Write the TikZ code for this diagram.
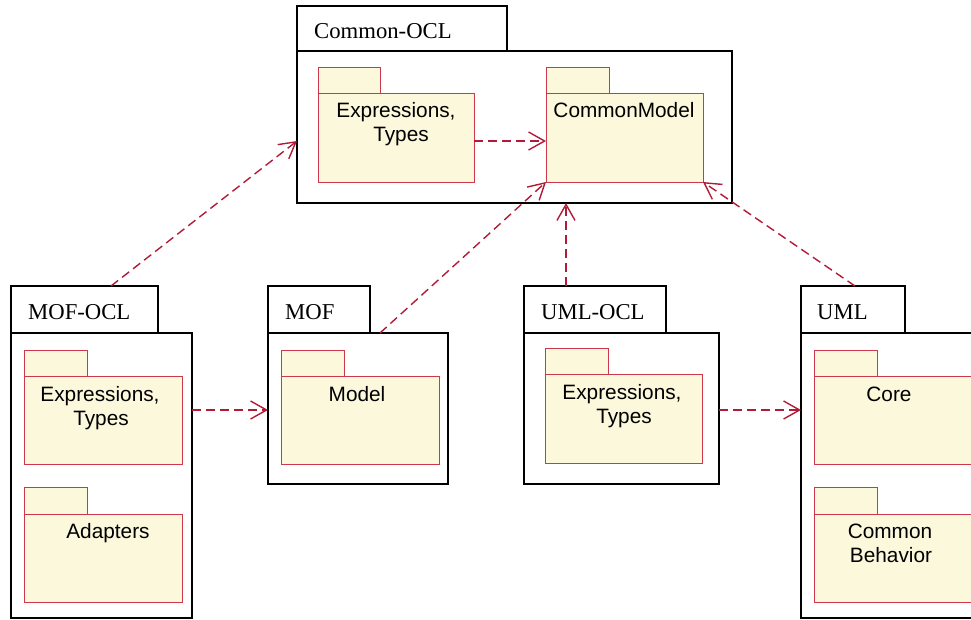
\documentclass[tikz,border=0pt]{standalone}
\usepackage{fontspec}
\setmainfont{Liberation Serif}
\newfontfamily\arialfont{Liberation Sans}
\usetikzlibrary{arrows.meta}
\definecolor{deprd}{RGB}{176,28,56}
\definecolor{pkred}{RGB}{206,56,76}
\definecolor{pkfill}{RGB}{252,248,220}
\begin{document}
\begin{tikzpicture}[x=1pt,y=-1pt,
  pk/.style 2 args={anchor=north west, inner sep=0pt, outer sep=0pt, minimum width=#1, minimum height=#2},
  outerbox/.style={draw=black, line width=1.6pt, fill=white},
  innerbox/.style={draw=pkred, line width=1pt, fill=pkfill},
  tabtxt/.style={anchor=base west, inner sep=0pt, font=\fontsize{22.7}{26}\selectfont},
  intxt/.style={anchor=base, inner sep=0pt, font=\arialfont\fontsize{20.8}{24}\selectfont},
  dep/.style={draw=deprd, line width=1.4pt, dash pattern=on 9pt off 5pt, -{Straight Barb[length=16pt,width=18pt]}}]
\useasboundingbox (0,0) rectangle (971,619);
\clip (0,0) rectangle (971,619);
% ---------- Common-OCL ----------
\node[pk={435pt}{152pt}, outerbox] (cobody) at (297,51) {};
\node[pk={210pt}{45pt}, outerbox] (cotab) at (297,6) {};
\node[tabtxt] (colbl) at (314,38) {Common-OCL};
\node[pk={156pt}{89pt}, innerbox] (coexp) at (318,93) {};
\node[pk={62pt}{26pt}, innerbox] (coexptab) at (318,67) {};
\node[intxt] (coexpa) at (396,117) {Expressions,};
\node[intxt] (coexpb) at (401,141) {Types};
\node[pk={157pt}{89pt}, innerbox] (cmbody) at (546,93) {};
\node[pk={63pt}{26pt}, innerbox] (cmtab) at (546,67) {};
\node[intxt] (cmtxt) at (624,117) {CommonModel};
% ---------- MOF-OCL ----------
\node[pk={181pt}{285pt}, outerbox] (mobody) at (11,333) {};
\node[pk={147pt}{47pt}, outerbox] (motab) at (11,286) {};
\node[tabtxt] (molbl) at (28,319) {MOF-OCL};
\node[pk={158pt}{88pt}, innerbox] (moexp) at (24,376) {};
\node[pk={63pt}{26pt}, innerbox] (moexptab) at (24,350) {};
\node[intxt] (moexpa) at (100,401) {Expressions,};
\node[intxt] (moexpb) at (101,425) {Types};
\node[pk={158pt}{88pt}, innerbox] (adbody) at (24,514) {};
\node[pk={63pt}{27pt}, innerbox] (adtab) at (24,487) {};
\node[intxt] (adtxt) at (108,538) {Adapters};
% ---------- MOF ----------
\node[pk={180pt}{151pt}, outerbox] (mfbody) at (268,333) {};
\node[pk={102pt}{47pt}, outerbox] (mftab) at (268,286) {};
\node[tabtxt] (mflbl) at (285,319) {MOF};
\node[pk={158pt}{88pt}, innerbox] (modbody) at (281,376) {};
\node[pk={63pt}{26pt}, innerbox] (modtab) at (281,350) {};
\node[intxt] (modtxt) at (357,401) {Model};
% ---------- UML-OCL ----------
\node[pk={195pt}{151pt}, outerbox] (uobody) at (524,333) {};
\node[pk={142pt}{47pt}, outerbox] (uotab) at (524,286) {};
\node[tabtxt] (uolbl) at (541,319) {UML-OCL};
\node[pk={157pt}{89pt}, innerbox] (uoexp) at (545,374) {};
\node[pk={63pt}{26pt}, innerbox] (uoexptab) at (545,348) {};
\node[intxt] (uoexpa) at (622,399) {Expressions,};
\node[intxt] (uoexpb) at (624,423) {Types};
% ---------- UML ----------
\node[pk={200pt}{285pt}, outerbox] (umbody) at (801,333) {};
\node[pk={104pt}{47pt}, outerbox] (umtab) at (801,286) {};
\node[tabtxt] (umlbl) at (817,319) {UML};
\node[pk={180pt}{88pt}, innerbox] (core) at (814,376) {};
\node[pk={63pt}{26pt}, innerbox] (coretab) at (814,350) {};
\node[intxt] (coretxt) at (889,401) {Core};
\node[pk={180pt}{88pt}, innerbox] (cb) at (814,514) {};
\node[pk={63pt}{27pt}, innerbox] (cbtab) at (814,487) {};
\node[intxt] (cba) at (890,538) {Common};
\node[intxt] (cbb) at (891,562) {Behavior};
% ---------- dependencies ----------
\draw[dep] (coexp.east |- 0,141) -- (cmbody.west |- 0,141);
\draw[dep] (motab.north -| 111,0) -- (cobody.west |- 0,141);
\draw[dep] (mfbody.north -| 380,0) -- (cmbody.south west);
\draw[dep] (uotab.north -| 566,0) -- (cobody.south -| 566,0);
\draw[dep] (umtab.north -| 855,0) -- (cmbody.south east);
\draw[dep] (mobody.east |- 0,410) -- (mfbody.west |- 0,410);
\draw[dep] (uobody.east |- 0,410) -- (umbody.west |- 0,410);
\end{tikzpicture}
\end{document}
